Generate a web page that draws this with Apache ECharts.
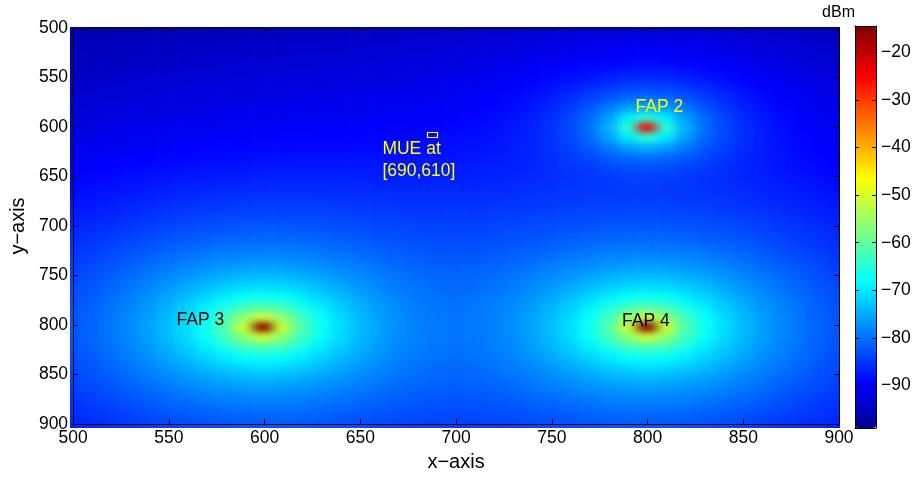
<!DOCTYPE html>
<html>
<head>
<meta charset="utf-8">
<script src="https://cdn.jsdelivr.net/npm/echarts@6/dist/echarts.min.js"></script>
<style>
html,body{margin:0;padding:0;background:#ffffff;}
#wrap{position:relative;width:918px;height:477px;}
#heatClip{position:absolute;left:70px;top:27px;width:770px;height:401px;overflow:hidden;}
#heat{position:absolute;left:-70px;top:-27px;width:918px;height:477px;filter:url(#soften);}
#chart{position:absolute;left:0;top:0;width:918px;height:477px;}
</style>
</head>
<body>
<svg width="0" height="0" style="position:absolute">
  <filter id="soften" x="-5%" y="-5%" width="110%" height="110%" color-interpolation-filters="sRGB">
    <feGaussianBlur stdDeviation="6 3"/>
  </filter>
</svg>
<div id="wrap">
  <div id="heatClip"><div id="heat"></div></div>
  <div id="chart"></div>
</div>
<script>
// ---------------- data ----------------
const xPositions = [500,510,520,530,540,550,560,570,580,590,600,610,620,630,640,650,660,670,680,690,700,710,720,730,740,750,760,770,780,790,800,810,820,830,840,850,860,870,880,890,900];
const yPositions = [500,510,520,530,540,550,560,570,580,590,600,610,620,630,640,650,660,670,680,690,700,710,720,730,740,750,760,770,780,790,800,810,820,830,840,850,860,870,880,890,900];

// received power in dBm, one row per y position (top row y = 500)
const signalRows = [
[-96.1,-95.9,-95.8,-95.6,-95.5,-95.3,-95.2,-95.1,-95.0,-94.9,-94.7,-94.6,-94.6,-94.5,-94.4,-94.3,-94.2,-94.1,-94.0,-93.8,-93.7,-93.6,-93.4,-93.3,-93.1,-93.0,-92.8,-92.7,-92.6,-92.6,-92.6,-92.6,-92.8,-93.0,-93.2,-93.4,-93.7,-94.0,-94.3,-94.6,-94.9],
[-95.7,-95.5,-95.4,-95.2,-95.1,-94.9,-94.8,-94.7,-94.6,-94.5,-94.4,-94.3,-94.2,-94.1,-94.0,-93.9,-93.8,-93.7,-93.5,-93.4,-93.3,-93.1,-92.9,-92.8,-92.5,-92.3,-92.1,-91.9,-91.8,-91.7,-91.7,-91.8,-92.0,-92.2,-92.5,-92.8,-93.1,-93.5,-93.8,-94.1,-94.4],
[-95.4,-95.2,-95.0,-94.9,-94.7,-94.6,-94.4,-94.3,-94.2,-94.1,-94.0,-93.9,-93.8,-93.7,-93.6,-93.5,-93.4,-93.3,-93.1,-93.0,-92.8,-92.6,-92.4,-92.2,-91.9,-91.6,-91.4,-91.1,-90.9,-90.8,-90.7,-90.8,-91.0,-91.3,-91.7,-92.1,-92.5,-92.9,-93.3,-93.7,-94.0],
[-95.0,-94.8,-94.7,-94.5,-94.3,-94.2,-94.1,-93.9,-93.8,-93.7,-93.6,-93.5,-93.4,-93.3,-93.2,-93.1,-92.9,-92.8,-92.7,-92.5,-92.4,-92.1,-91.9,-91.6,-91.2,-90.9,-90.5,-90.1,-89.8,-89.6,-89.5,-89.6,-89.9,-90.3,-90.8,-91.3,-91.8,-92.3,-92.8,-93.2,-93.6],
[-94.7,-94.5,-94.3,-94.1,-93.9,-93.8,-93.6,-93.5,-93.4,-93.3,-93.2,-93.0,-92.9,-92.8,-92.7,-92.6,-92.5,-92.4,-92.3,-92.1,-91.9,-91.6,-91.3,-91.0,-90.5,-90.0,-89.5,-89.0,-88.5,-88.1,-88.0,-88.2,-88.6,-89.1,-89.8,-90.4,-91.1,-91.7,-92.2,-92.7,-93.1],
[-94.3,-94.1,-93.9,-93.7,-93.5,-93.4,-93.2,-93.1,-93.0,-92.8,-92.7,-92.6,-92.5,-92.4,-92.3,-92.2,-92.1,-92.0,-91.8,-91.6,-91.4,-91.1,-90.8,-90.3,-89.8,-89.1,-88.4,-87.6,-86.9,-86.3,-86.1,-86.4,-86.9,-87.7,-88.6,-89.5,-90.3,-91.0,-91.6,-92.2,-92.7],
[-93.9,-93.7,-93.5,-93.3,-93.1,-92.9,-92.8,-92.6,-92.5,-92.4,-92.3,-92.2,-92.1,-92.0,-91.9,-91.8,-91.7,-91.5,-91.4,-91.2,-90.9,-90.6,-90.2,-89.7,-89.0,-88.2,-87.2,-86.0,-84.9,-84.0,-83.7,-84.0,-84.9,-86.1,-87.4,-88.5,-89.5,-90.4,-91.1,-91.7,-92.3],
[-93.5,-93.3,-93.0,-92.9,-92.7,-92.5,-92.3,-92.2,-92.0,-91.9,-91.8,-91.7,-91.6,-91.5,-91.4,-91.3,-91.2,-91.1,-90.9,-90.7,-90.5,-90.2,-89.7,-89.1,-88.3,-87.3,-85.9,-84.2,-82.4,-80.8,-80.2,-80.9,-82.4,-84.3,-86.0,-87.5,-88.8,-89.8,-90.6,-91.3,-91.9],
[-93.1,-92.8,-92.6,-92.4,-92.2,-92.0,-91.9,-91.7,-91.6,-91.4,-91.3,-91.2,-91.1,-91.0,-90.9,-90.9,-90.8,-90.6,-90.5,-90.3,-90.1,-89.7,-89.3,-88.6,-87.7,-86.4,-84.6,-82.3,-79.3,-76.1,-74.5,-76.1,-79.3,-82.4,-84.8,-86.7,-88.1,-89.3,-90.2,-90.9,-91.5],
[-92.6,-92.4,-92.2,-91.9,-91.7,-91.5,-91.3,-91.2,-91.1,-90.9,-90.8,-90.7,-90.6,-90.5,-90.5,-90.4,-90.3,-90.2,-90.0,-89.9,-89.6,-89.3,-88.8,-88.2,-87.2,-85.8,-83.7,-80.7,-76.1,-69.5,-64.5,-69.5,-76.1,-80.8,-83.8,-86.0,-87.6,-88.8,-89.8,-90.5,-91.1],
[-92.2,-91.9,-91.7,-91.4,-91.2,-91.0,-90.8,-90.7,-90.5,-90.4,-90.3,-90.2,-90.1,-90.0,-89.9,-89.9,-89.8,-89.7,-89.6,-89.4,-89.2,-88.9,-88.5,-87.8,-86.8,-85.4,-83.3,-80.1,-74.5,-64.5,-25.0,-64.5,-74.5,-80.1,-83.4,-85.7,-87.3,-88.5,-89.4,-90.2,-90.8],
[-91.7,-91.4,-91.2,-90.9,-90.7,-90.5,-90.3,-90.1,-90.0,-89.8,-89.7,-89.6,-89.5,-89.5,-89.4,-89.4,-89.3,-89.2,-89.1,-89.0,-88.8,-88.5,-88.1,-87.5,-86.7,-85.4,-83.5,-80.6,-76.0,-69.5,-64.5,-69.5,-76.0,-80.7,-83.6,-85.7,-87.2,-88.3,-89.2,-89.9,-90.5],
[-91.3,-91.0,-90.7,-90.4,-90.1,-89.9,-89.7,-89.5,-89.4,-89.2,-89.1,-89.0,-89.0,-88.9,-88.9,-88.8,-88.8,-88.7,-88.6,-88.5,-88.4,-88.1,-87.8,-87.3,-86.6,-85.6,-84.1,-82.0,-79.1,-76.0,-74.5,-76.0,-79.2,-82.1,-84.3,-85.9,-87.2,-88.2,-88.9,-89.6,-90.2],
[-90.8,-90.4,-90.1,-89.8,-89.6,-89.3,-89.1,-88.9,-88.7,-88.6,-88.5,-88.4,-88.3,-88.3,-88.3,-88.3,-88.2,-88.2,-88.1,-88.1,-87.9,-87.7,-87.5,-87.1,-86.5,-85.8,-84.7,-83.4,-81.8,-80.5,-79.9,-80.5,-81.9,-83.6,-85.0,-86.3,-87.2,-88.0,-88.7,-89.3,-89.8],
[-90.2,-89.9,-89.6,-89.2,-88.9,-88.7,-88.4,-88.2,-88.0,-87.9,-87.8,-87.7,-87.7,-87.7,-87.7,-87.7,-87.7,-87.7,-87.6,-87.6,-87.5,-87.3,-87.1,-86.8,-86.4,-85.9,-85.2,-84.5,-83.6,-82.9,-82.7,-83.0,-83.7,-84.7,-85.6,-86.5,-87.2,-87.9,-88.4,-89.0,-89.5],
[-89.7,-89.3,-89.0,-88.6,-88.3,-88.0,-87.7,-87.5,-87.3,-87.2,-87.1,-87.0,-87.0,-87.0,-87.0,-87.0,-87.1,-87.1,-87.1,-87.0,-87.0,-86.9,-86.7,-86.5,-86.2,-85.9,-85.4,-85.0,-84.6,-84.2,-84.1,-84.3,-84.7,-85.3,-85.9,-86.5,-87.0,-87.6,-88.1,-88.6,-89.1],
[-89.2,-88.7,-88.3,-88.0,-87.6,-87.3,-87.0,-86.7,-86.5,-86.4,-86.3,-86.2,-86.2,-86.2,-86.3,-86.4,-86.4,-86.5,-86.5,-86.5,-86.5,-86.4,-86.2,-86.1,-85.8,-85.6,-85.3,-85.0,-84.8,-84.7,-84.6,-84.8,-85.0,-85.4,-85.8,-86.3,-86.7,-87.2,-87.7,-88.2,-88.7],
[-88.6,-88.1,-87.7,-87.3,-86.9,-86.5,-86.2,-85.9,-85.7,-85.5,-85.4,-85.4,-85.4,-85.5,-85.5,-85.6,-85.7,-85.8,-85.9,-85.9,-85.9,-85.8,-85.7,-85.6,-85.4,-85.2,-84.9,-84.7,-84.6,-84.5,-84.5,-84.6,-84.8,-85.1,-85.4,-85.8,-86.3,-86.7,-87.2,-87.7,-88.2],
[-88.0,-87.5,-87.0,-86.5,-86.1,-85.7,-85.3,-85.0,-84.8,-84.6,-84.5,-84.5,-84.5,-84.6,-84.7,-84.9,-85.0,-85.2,-85.3,-85.3,-85.3,-85.3,-85.2,-85.0,-84.8,-84.6,-84.4,-84.2,-84.0,-84.0,-84.0,-84.1,-84.3,-84.5,-84.9,-85.3,-85.7,-86.2,-86.7,-87.2,-87.7],
[-87.4,-86.9,-86.3,-85.8,-85.3,-84.8,-84.4,-84.0,-83.7,-83.6,-83.5,-83.5,-83.5,-83.7,-83.8,-84.1,-84.3,-84.5,-84.6,-84.7,-84.7,-84.7,-84.5,-84.3,-84.1,-83.9,-83.6,-83.4,-83.3,-83.2,-83.2,-83.3,-83.5,-83.7,-84.1,-84.5,-85.0,-85.5,-86.1,-86.6,-87.2],
[-86.8,-86.2,-85.6,-85.0,-84.4,-83.9,-83.4,-83.0,-82.7,-82.4,-82.3,-82.3,-82.5,-82.7,-82.9,-83.2,-83.5,-83.7,-84.0,-84.1,-84.1,-84.1,-83.9,-83.7,-83.4,-83.1,-82.8,-82.5,-82.3,-82.2,-82.2,-82.3,-82.5,-82.8,-83.2,-83.7,-84.2,-84.8,-85.4,-86.0,-86.7],
[-86.2,-85.5,-84.8,-84.1,-83.5,-82.8,-82.3,-81.8,-81.4,-81.2,-81.1,-81.1,-81.2,-81.5,-81.9,-82.3,-82.7,-83.0,-83.3,-83.5,-83.6,-83.5,-83.3,-83.0,-82.7,-82.3,-81.9,-81.5,-81.2,-81.1,-81.1,-81.2,-81.4,-81.8,-82.3,-82.8,-83.5,-84.1,-84.8,-85.5,-86.2],
[-85.6,-84.9,-84.1,-83.3,-82.5,-81.7,-81.1,-80.5,-80.0,-79.7,-79.6,-79.6,-79.9,-80.3,-80.7,-81.3,-81.8,-82.2,-82.6,-82.8,-82.9,-82.8,-82.6,-82.2,-81.8,-81.3,-80.7,-80.3,-79.9,-79.6,-79.6,-79.7,-80.0,-80.5,-81.1,-81.7,-82.5,-83.3,-84.1,-84.9,-85.6],
[-85.0,-84.2,-83.3,-82.4,-81.5,-80.6,-79.7,-79.0,-78.4,-78.1,-77.9,-78.0,-78.3,-78.9,-79.5,-80.2,-80.8,-81.4,-81.9,-82.2,-82.3,-82.2,-81.9,-81.4,-80.8,-80.2,-79.5,-78.9,-78.3,-78.0,-77.9,-78.1,-78.4,-79.0,-79.7,-80.6,-81.5,-82.4,-83.3,-84.2,-85.0],
[-84.5,-83.5,-82.5,-81.5,-80.4,-79.4,-78.3,-77.4,-76.6,-76.1,-75.9,-76.1,-76.6,-77.3,-78.1,-79.0,-79.9,-80.6,-81.2,-81.6,-81.7,-81.6,-81.2,-80.6,-79.9,-79.0,-78.1,-77.3,-76.6,-76.1,-75.9,-76.1,-76.6,-77.4,-78.3,-79.4,-80.4,-81.5,-82.5,-83.5,-84.5],
[-84.0,-82.9,-81.8,-80.6,-79.4,-78.1,-76.8,-75.6,-74.6,-73.9,-73.6,-73.9,-74.5,-75.5,-76.7,-77.8,-78.9,-79.8,-80.5,-81.0,-81.1,-81.0,-80.5,-79.8,-78.9,-77.8,-76.7,-75.5,-74.5,-73.9,-73.6,-73.9,-74.6,-75.6,-76.8,-78.1,-79.4,-80.6,-81.8,-82.9,-84.0],
[-83.5,-82.3,-81.1,-79.8,-78.4,-76.8,-75.2,-73.6,-72.2,-71.1,-70.7,-71.1,-72.2,-73.6,-75.1,-76.6,-77.9,-79.1,-79.9,-80.5,-80.7,-80.5,-79.9,-79.1,-77.9,-76.6,-75.1,-73.6,-72.2,-71.1,-70.7,-71.1,-72.2,-73.6,-75.2,-76.8,-78.4,-79.8,-81.1,-82.3,-83.5],
[-83.1,-81.9,-80.5,-79.1,-77.4,-75.6,-73.6,-71.5,-69.4,-67.7,-67.0,-67.7,-69.4,-71.5,-73.5,-75.4,-77.1,-78.4,-79.4,-80.0,-80.3,-80.0,-79.4,-78.4,-77.1,-75.4,-73.5,-71.5,-69.4,-67.7,-67.0,-67.7,-69.4,-71.5,-73.6,-75.6,-77.4,-79.1,-80.5,-81.9,-83.1],
[-82.8,-81.5,-80.1,-78.5,-76.7,-74.6,-72.2,-69.4,-66.1,-62.7,-61.1,-62.7,-66.1,-69.4,-72.1,-74.4,-76.4,-77.9,-79.0,-79.7,-80.0,-79.7,-79.0,-77.9,-76.4,-74.4,-72.1,-69.4,-66.1,-62.7,-61.1,-62.7,-66.1,-69.4,-72.2,-74.6,-76.7,-78.5,-80.1,-81.5,-82.8],
[-82.6,-81.3,-79.8,-78.1,-76.2,-73.9,-71.1,-67.7,-62.7,-56.0,-51.0,-56.0,-62.7,-67.7,-71.1,-73.8,-75.9,-77.5,-78.8,-79.5,-79.8,-79.5,-78.8,-77.5,-75.9,-73.8,-71.1,-67.7,-62.7,-56.0,-51.0,-56.0,-62.7,-67.7,-71.1,-73.9,-76.2,-78.1,-79.8,-81.3,-82.6],
[-82.5,-81.2,-79.7,-78.0,-76.0,-73.6,-70.7,-67.0,-61.1,-51.0,-15.0,-51.0,-61.1,-67.0,-70.7,-73.5,-75.7,-77.4,-78.7,-79.4,-79.7,-79.4,-78.7,-77.4,-75.7,-73.5,-70.7,-67.0,-61.1,-51.0,-15.0,-51.0,-61.1,-67.0,-70.7,-73.6,-76.0,-78.0,-79.7,-81.2,-82.5],
[-82.6,-81.3,-79.8,-78.1,-76.2,-73.9,-71.1,-67.7,-62.7,-56.0,-51.0,-56.0,-62.7,-67.7,-71.1,-73.8,-75.9,-77.5,-78.8,-79.5,-79.8,-79.5,-78.8,-77.5,-75.9,-73.8,-71.1,-67.7,-62.7,-56.0,-51.0,-56.0,-62.7,-67.7,-71.1,-73.9,-76.2,-78.1,-79.8,-81.3,-82.6],
[-82.8,-81.5,-80.1,-78.5,-76.7,-74.6,-72.2,-69.4,-66.1,-62.7,-61.1,-62.7,-66.1,-69.4,-72.1,-74.4,-76.4,-77.9,-79.0,-79.7,-80.0,-79.7,-79.0,-77.9,-76.4,-74.4,-72.1,-69.4,-66.1,-62.7,-61.1,-62.7,-66.1,-69.4,-72.2,-74.6,-76.7,-78.5,-80.1,-81.5,-82.8],
[-83.1,-81.9,-80.5,-79.1,-77.4,-75.6,-73.6,-71.5,-69.4,-67.7,-67.0,-67.7,-69.4,-71.5,-73.5,-75.4,-77.1,-78.4,-79.4,-80.0,-80.3,-80.0,-79.4,-78.4,-77.1,-75.4,-73.5,-71.5,-69.4,-67.7,-67.0,-67.7,-69.4,-71.5,-73.6,-75.6,-77.4,-79.1,-80.5,-81.9,-83.1],
[-83.5,-82.3,-81.1,-79.8,-78.4,-76.8,-75.2,-73.6,-72.2,-71.1,-70.7,-71.1,-72.2,-73.6,-75.1,-76.6,-77.9,-79.1,-79.9,-80.5,-80.7,-80.5,-79.9,-79.1,-77.9,-76.6,-75.1,-73.6,-72.2,-71.1,-70.7,-71.1,-72.2,-73.6,-75.2,-76.8,-78.4,-79.8,-81.1,-82.3,-83.5],
[-84.0,-82.9,-81.8,-80.6,-79.4,-78.1,-76.8,-75.6,-74.6,-73.9,-73.6,-73.9,-74.5,-75.5,-76.7,-77.8,-78.9,-79.8,-80.5,-81.0,-81.1,-81.0,-80.5,-79.8,-78.9,-77.8,-76.7,-75.5,-74.5,-73.9,-73.6,-73.9,-74.6,-75.6,-76.8,-78.1,-79.4,-80.6,-81.8,-82.9,-84.0],
[-84.5,-83.5,-82.5,-81.5,-80.4,-79.4,-78.3,-77.4,-76.6,-76.1,-75.9,-76.1,-76.6,-77.3,-78.1,-79.0,-79.9,-80.6,-81.2,-81.6,-81.7,-81.6,-81.2,-80.6,-79.9,-79.0,-78.1,-77.3,-76.6,-76.1,-75.9,-76.1,-76.6,-77.4,-78.3,-79.4,-80.4,-81.5,-82.5,-83.5,-84.5],
[-85.0,-84.2,-83.3,-82.4,-81.5,-80.6,-79.7,-79.0,-78.4,-78.1,-77.9,-78.0,-78.3,-78.9,-79.5,-80.2,-80.8,-81.4,-81.9,-82.2,-82.3,-82.2,-81.9,-81.4,-80.8,-80.2,-79.5,-78.9,-78.3,-78.0,-77.9,-78.1,-78.4,-79.0,-79.7,-80.6,-81.5,-82.4,-83.3,-84.2,-85.0],
[-85.6,-84.9,-84.1,-83.3,-82.5,-81.7,-81.1,-80.5,-80.0,-79.7,-79.6,-79.6,-79.9,-80.3,-80.7,-81.3,-81.8,-82.2,-82.6,-82.8,-82.9,-82.8,-82.6,-82.2,-81.8,-81.3,-80.7,-80.3,-79.9,-79.6,-79.6,-79.7,-80.0,-80.5,-81.1,-81.7,-82.5,-83.3,-84.1,-84.9,-85.6],
[-86.2,-85.5,-84.8,-84.1,-83.5,-82.8,-82.3,-81.8,-81.4,-81.2,-81.1,-81.1,-81.2,-81.5,-81.9,-82.3,-82.7,-83.0,-83.3,-83.5,-83.6,-83.5,-83.3,-83.0,-82.7,-82.3,-81.9,-81.5,-81.2,-81.1,-81.1,-81.2,-81.4,-81.8,-82.3,-82.8,-83.5,-84.1,-84.8,-85.5,-86.2],
[-86.8,-86.2,-85.6,-85.0,-84.4,-83.9,-83.4,-83.0,-82.7,-82.4,-82.3,-82.3,-82.5,-82.7,-82.9,-83.2,-83.5,-83.8,-84.0,-84.2,-84.2,-84.2,-84.0,-83.8,-83.5,-83.2,-82.9,-82.7,-82.5,-82.3,-82.3,-82.4,-82.7,-83.0,-83.4,-83.9,-84.4,-85.0,-85.6,-86.2,-86.8]
];

const xTicks = [500,550,600,650,700,750,800,850,900];
const yTicks = [500,550,600,650,700,750,800,850,900];
const colorbarTicks = [-90,-80,-70,-60,-50,-40,-30,-20];
const colorLimits = [-98.9, -14.5];

const fapNames = ['FAP 2', 'FAP 3', 'FAP 4'];
const fapPositions = [[800,600],[600,800],[800,800]];
const muePosition = [690,610];
const mueText = ['MUE at', '[690,610]'];

// ---------------- styling ----------------
const FONT_FAMILY = '"Liberation Sans", Arial, Helvetica, sans-serif';
const TICK_FONT = 17.5;
const NAME_FONT = 20;
const CELL_HALF = 5;           // half of the grid spacing, data units
const EDGE_BLEED = 14;         // outer cells reach past the frame (hidden by the clip)
const MUE_BOX = 5;             // MUE rectangle size, data units
const fapLabelStyle = [
  {dx: -12, dy: -20, color: '#ffff00'},
  {dx: -88, dy: -4.5, color: '#000000'},
  {dx: -25.5, dy: -4, color: '#000000'}
];

function jetColormap(n) {
  const m = n / 4;
  const u = [];
  for (let k = 1; k <= m; k++) u.push(k / m);
  for (let k = 0; k < m - 1; k++) u.push(1);
  for (let k = m; k >= 1; k--) u.push(k / m);
  const r = new Array(n).fill(0), g = new Array(n).fill(0), b = new Array(n).fill(0);
  const g0 = Math.ceil(m / 2) - (n % 4 === 1 ? 1 : 0);
  for (let k = 0; k < u.length; k++) {
    const gi = g0 + k + 1, ri = gi + m, bi = gi - m;
    if (gi >= 1 && gi <= n) g[gi - 1] = u[k];
    if (ri >= 1 && ri <= n) r[ri - 1] = u[k];
    if (bi >= 1 && bi <= n) b[bi - 1] = u[k];
  }
  const out = [];
  for (let i = 0; i < n; i++) out.push('rgb(' + Math.round(r[i]*255) + ',' + Math.round(g[i]*255) + ',' + Math.round(b[i]*255) + ')');
  return out;
}
const JET = jetColormap(64);

const cells = [];
signalRows.forEach((row, r) => row.forEach((v, c) => cells.push([xPositions[c], yPositions[r], v])));

const xMin = xTicks[0], xMax = xTicks[xTicks.length - 1];
const yMin = yTicks[0], yMax = yTicks[yTicks.length - 1];
const minusFmt = v => (v < 0 ? '\u2212' + Math.abs(v) : String(v));
const black = '#000000';
const mainGrid = {left: 71, top: 28, width: 768, height: 399, show: false};

function frameAxis(extra) {
  return Object.assign({
    type: 'value', z: 10,
    axisLine: {show: true, onZero: false, lineStyle: {color: black, width: 1}},
    axisTick: {show: true, inside: true, length: 5, lineStyle: {color: black}},
    axisLabel: {show: false},
    splitLine: {show: false}
  }, extra);
}

// ---------- layer 1: the signal map (softened by an SVG blur, clipped to the frame) ----------
const heatOption = {
  animation: false,
  grid: [mainGrid],
  xAxis: [{type: 'value', min: xMin, max: xMax, show: false}],
  yAxis: [{type: 'value', min: yMin, max: yMax, inverse: true, show: false}],
  visualMap: {type: 'continuous', show: false, min: colorLimits[0], max: colorLimits[1],
    dimension: 2, seriesIndex: 0, inRange: {color: JET}},
  series: [{
    type: 'custom', coordinateSystem: 'cartesian2d', silent: true, data: cells,
    renderItem: function (params, api) {
      const x = api.value(0), y = api.value(1);
      const x0 = x - CELL_HALF - (x === xMin ? EDGE_BLEED : 0);
      const x1 = x + CELL_HALF + (x === xMax ? EDGE_BLEED : 0);
      const y0 = y - CELL_HALF - (y === yMin ? EDGE_BLEED : 0);
      const y1 = y + CELL_HALF + (y === yMax ? EDGE_BLEED : 0);
      const p0 = api.coord([x0, y0]);
      const p1 = api.coord([x1, y1]);
      const left = Math.min(p0[0], p1[0]), top = Math.min(p0[1], p1[1]);
      return {
        type: 'rect',
        shape: {x: left - 0.3, y: top - 0.3, width: Math.abs(p1[0] - p0[0]) + 0.6, height: Math.abs(p1[1] - p0[1]) + 0.6},
        style: {fill: api.visual('color')}
      };
    }
  }]
};

// ---------- layer 2: frame, ticks, colour bar and annotations ----------
const frameOption = {
  animation: false,
  backgroundColor: 'transparent',
  textStyle: {fontFamily: FONT_FAMILY},
  grid: [
    mainGrid,
    {left: 855, top: 26, width: 21, height: 402, show: false}
  ],
  xAxis: [
    frameAxis({gridIndex: 0, min: xMin, max: xMax, interval: 50, position: 'bottom',
      axisLabel: {show: true, color: black, fontSize: TICK_FONT, fontFamily: FONT_FAMILY, margin: 5},
      name: 'x\u2212axis', nameLocation: 'middle', nameGap: 28,
      nameTextStyle: {color: black, fontSize: NAME_FONT, fontFamily: FONT_FAMILY}}),
    frameAxis({gridIndex: 0, min: xMin, max: xMax, interval: 50, position: 'top'}),
    frameAxis({gridIndex: 1, min: 0, max: 1, position: 'bottom', axisTick: {show: false}}),
    frameAxis({gridIndex: 1, min: 0, max: 1, position: 'top', axisTick: {show: false}})
  ],
  yAxis: [
    frameAxis({gridIndex: 0, min: yMin, max: yMax, interval: 50, inverse: true, position: 'left',
      axisLabel: {show: true, color: black, fontSize: TICK_FONT, fontFamily: FONT_FAMILY, margin: 5},
      name: 'y\u2212axis', nameLocation: 'middle', nameGap: 43, nameRotate: 90,
      nameTextStyle: {color: black, fontSize: NAME_FONT, fontFamily: FONT_FAMILY}}),
    frameAxis({gridIndex: 0, min: yMin, max: yMax, interval: 50, inverse: true, position: 'right'}),
    frameAxis({gridIndex: 1, min: colorLimits[0], max: colorLimits[1], position: 'right',
      axisTick: {show: true, inside: true, length: 4, lineStyle: {color: black}, customValues: colorbarTicks},
      axisLabel: {show: true, color: black, fontSize: TICK_FONT, fontFamily: FONT_FAMILY, margin: 5,
        customValues: colorbarTicks, formatter: minusFmt}}),
    frameAxis({gridIndex: 1, min: colorLimits[0], max: colorLimits[1], position: 'left',
      axisTick: {show: true, inside: true, length: 4, lineStyle: {color: black}, customValues: colorbarTicks},
      name: 'dBm', nameLocation: 'end', nameGap: 5,
      nameTextStyle: {color: black, fontSize: 16, fontFamily: FONT_FAMILY, align: 'right'}})
  ],
  visualMap: {
    type: 'continuous', min: colorLimits[0], max: colorLimits[1], dimension: 2, seriesIndex: [],
    inRange: {color: JET},
    left: 855, top: 26, itemWidth: 21, itemHeight: 402, padding: 0,
    calculable: false, hoverLink: false, realtime: false, z: 2
  },
  series: [
    {
      type: 'custom', coordinateSystem: 'cartesian2d', xAxisIndex: 0, yAxisIndex: 0,
      silent: true, z: 5,
      data: fapPositions.map((p, i) => ({name: fapNames[i], value: p})),
      renderItem: function (params, api) {
        const p = api.coord([api.value(0), api.value(1)]);
        const st = fapLabelStyle[params.dataIndex];
        return {
          type: 'text', x: p[0] + st.dx, y: p[1] + st.dy,
          style: {text: fapNames[params.dataIndex], fill: st.color,
            font: TICK_FONT + 'px ' + FONT_FAMILY, align: 'left', verticalAlign: 'middle'}
        };
      }
    },
    {
      type: 'custom', coordinateSystem: 'cartesian2d', xAxisIndex: 0, yAxisIndex: 0,
      silent: true, z: 5,
      data: [muePosition],
      renderItem: function (params, api) {
        const x = api.value(0), y = api.value(1);
        const a = api.coord([x - MUE_BOX, y - MUE_BOX]);
        const b = api.coord([x, y]);
        return {
          type: 'group',
          children: [
            {type: 'rect', shape: {x: Math.round(a[0]) + 0.5, y: Math.round(a[1]) + 0.5,
              width: Math.round(b[0] - a[0]), height: Math.round(b[1] - a[1])},
              style: {fill: 'none', stroke: '#ffff00', lineWidth: 1.2}},
            {type: 'text', x: b[0] - 54.5, y: b[1] + 12,
              style: {text: mueText[0], fill: '#ffff00', font: TICK_FONT + 'px ' + FONT_FAMILY, align: 'left', verticalAlign: 'middle'}},
            {type: 'text', x: b[0] - 54.5, y: b[1] + 34,
              style: {text: mueText[1], fill: '#ffff00', font: TICK_FONT + 'px ' + FONT_FAMILY, align: 'left', verticalAlign: 'middle'}}
          ]
        };
      }
    }
  ]
};

const heatChart = echarts.init(document.getElementById('heat'), null, {renderer: 'canvas', width: 918, height: 477});
heatChart.setOption(heatOption);
const frameChart = echarts.init(document.getElementById('chart'), null, {renderer: 'canvas', width: 918, height: 477});
frameChart.setOption(frameOption);
</script>
</body>
</html>
